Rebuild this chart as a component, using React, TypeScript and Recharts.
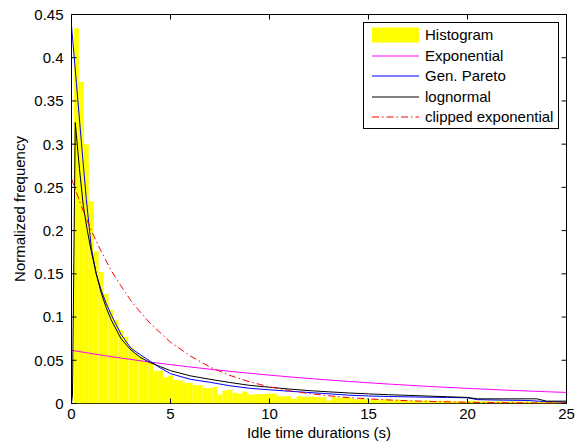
import { ComposedChart, Bar, Line, XAxis, YAxis, ReferenceArea } from "recharts"

// histogram of idle times, bins of 0.25 s (bin centres 0.25 .. 25)
const BIN_WIDTH = 0.25
const histogram = [
  0.434, 0.372, 0.300, 0.234, 0.176, 0.152, 0.127, 0.108, 0.097, 0.085,
  0.077, 0.065, 0.058, 0.055, 0.048, 0.048, 0.038, 0.038, 0.0305, 0.032,
  0.0275, 0.0267, 0.024, 0.024, 0.021, 0.021, 0.0178, 0.0178, 0.019, 0.0104,
  0.015, 0.016, 0.0124, 0.0112, 0.0139, 0.0104, 0.0104, 0.011, 0.011, 0.0116,
  0.0116, 0.0085, 0.0085, 0.0085, 0.0054, 0.0085, 0.0077, 0.0077, 0.0077, 0.0073,
  0.0073, 0.0035, 0.0077, 0.0066, 0.0066, 0.0066, 0.0052, 0.0047, 0.0058, 0.0044,
  0.0052, 0.0039, 0.0049, 0.0045, 0.0036, 0.0047, 0.0041, 0.0031, 0.0036, 0.0028,
  0.0033, 0.0038, 0.0026, 0.0031, 0.0029, 0.0035, 0.0024, 0.0030, 0.0027, 0.0022,
  0.0031, 0.0026, 0.0024, 0.0029, 0.0021, 0.0027, 0.0025, 0.0019, 0.0026, 0.0023,
  0.0021, 0.0025, 0.0018, 0.0024, 0.0022, 0.0019, 0.0023, 0.0017, 0.0021, 0.0018,
]

// fitted densities
const expX = [0, 2, 4, 6, 8, 10, 12, 14, 16, 18, 20, 22, 24, 25]
const expY = [0.0615, 0.0542, 0.0478, 0.0422, 0.0372, 0.0328, 0.0289, 0.0255, 0.0225, 0.0198, 0.0175, 0.0154, 0.0136, 0.0128]

const paretoX = [0, 0.25, 0.5, 0.75, 1, 1.25, 1.5, 1.75, 2, 2.5, 3, 3.5, 4, 4.5, 5, 6, 7, 8, 9, 10, 11, 12, 13, 14, 15, 16, 17, 18, 19, 20, 20.5, 21, 22, 23, 24, 25]
const paretoY = [0.437, 0.37, 0.302, 0.236, 0.18, 0.15, 0.131, 0.116, 0.103, 0.08, 0.064, 0.056, 0.0485, 0.041, 0.0345, 0.028, 0.0245, 0.0205, 0.0176, 0.0158, 0.0142, 0.0127, 0.0112, 0.0097, 0.0087, 0.0081, 0.0077, 0.0073, 0.007, 0.0066, 0.0045, 0.0042, 0.0038, 0.0035, 0.0022, 0.0015]

const lognX = [0, 0.05, 0.19, 0.4, 0.6, 0.8, 1, 1.25, 1.5, 1.75, 2, 2.5, 3, 3.5, 4, 4.5, 5, 6, 7, 8, 9, 10, 11, 12, 13, 14, 15, 16, 17, 18, 19, 20, 20.5, 23.5, 24, 25]
const lognY = [0, 0.01, 0.325, 0.272, 0.228, 0.2, 0.176, 0.15, 0.128, 0.111, 0.097, 0.075, 0.062, 0.053, 0.047, 0.0425, 0.038, 0.032, 0.028, 0.0243, 0.021, 0.0188, 0.0167, 0.0149, 0.0135, 0.0122, 0.0111, 0.0102, 0.0094, 0.0086, 0.0078, 0.007, 0.0054, 0.0054, 0.0027, 0.0027]

const clippedX = [0, 0.5, 1, 1.5, 2, 2.5, 3, 3.5, 4, 5, 6, 7, 8, 9, 10, 11, 12, 13, 14, 15, 16, 18, 20, 22, 25]
const clippedY = [0.26, 0.228, 0.2, 0.176, 0.154, 0.136, 0.119, 0.105, 0.092, 0.071, 0.055, 0.042, 0.0325, 0.025, 0.0193, 0.0149, 0.0115, 0.0089, 0.0068, 0.0053, 0.0041, 0.0024, 0.0014, 0.0009, 0.0004]

const xTicks = [0, 5, 10, 15, 20, 25]
const yTicks = [0, 0.05, 0.1, 0.15, 0.2, 0.25, 0.3, 0.35, 0.4, 0.45]

const histData = histogram.map((h, i) => ({ x: (i + 1) * BIN_WIDTH, h }))
const toPoints = (xs: number[], ys: number[]) => xs.map((x, i) => ({ x, y: ys[i] }))

const W = 581, H = 443
const M = { top: 14.5, right: 14.5, bottom: 0, left: 0 }
const Y_AXIS_W = 71.5, X_AXIS_H = 39.5
const PLOT_TOP = M.top
const PLOT_BOTTOM = H - M.bottom - X_AXIS_H
const PLOT_LEFT = M.left + Y_AXIS_W
const PLOT_RIGHT = W - M.right
const TICK = 5

const FONT = "'Liberation Sans', Arial, Helvetica, sans-serif"

// matlab style: ticks point inwards, on both sides of the box
const XTick = (p: any) => (
  <g>
    <line x1={p.x} x2={p.x} y1={PLOT_BOTTOM} y2={PLOT_BOTTOM - TICK} stroke="#000" />
    <line x1={p.x} x2={p.x} y1={PLOT_TOP} y2={PLOT_TOP + TICK} stroke="#000" />
    <text x={p.x} y={p.y} dy="0.71em" textAnchor="middle" fontSize={15} fontFamily={FONT} fill="#000">
      {p.payload.value}
    </text>
  </g>
)

const YTick = (p: any) => (
  <g>
    <line x1={PLOT_LEFT} x2={PLOT_LEFT + TICK} y1={p.y} y2={p.y} stroke="#000" />
    <line x1={PLOT_RIGHT} x2={PLOT_RIGHT - TICK} y1={p.y} y2={p.y} stroke="#000" />
    <text x={p.x} y={p.y} dy="0.36em" textAnchor="end" fontSize={15} fontFamily={FONT} fill="#000">
      {String(+Number(p.payload.value).toFixed(2))}
    </text>
  </g>
)

const legendItems = [
  { name: "Histogram", kind: "box", color: "#ffff00" },
  { name: "Exponential", kind: "line", color: "#ff00ff" },
  { name: "Gen. Pareto", kind: "line", color: "#0000ff" },
  { name: "lognormal", kind: "line", color: "#000000" },
  { name: "clipped exponential", kind: "dashdot", color: "#ff0000" },
]

function Legend() {
  return (
    <svg width={196} height={107} style={{ position: "absolute", left: 363, top: 22 }}>
      <rect x={0.5} y={0.5} width={195} height={106} fill="#fff" stroke="#000" />
      {legendItems.map((d, i) => {
        const cy = 13 + i * 20.5
        return (
          <g key={d.name}>
            {d.kind === "box"
              ? <rect x={9} y={cy - 7.5} width={47} height={15} fill={d.color} />
              : <line x1={9} x2={56} y1={Math.round(cy)} y2={Math.round(cy)} stroke={d.color} strokeWidth={1}
                  strokeDasharray={d.kind === "dashdot" ? "7 3 1.5 3" : undefined} />}
            <text x={62} y={cy + 5} fontSize={15} fontFamily={FONT} fill="#000">{d.name}</text>
          </g>
        )
      })}
    </svg>
  )
}

export default function App() {
  return (
    <div style={{ position: "absolute", left: 0, top: 0, width: W, height: H, background: "#fff", fontFamily: FONT }}>
      <ComposedChart width={W} height={H} data={histData} barCategoryGap={0} barGap={0} margin={M}>
        <XAxis xAxisId="hist" dataKey="x" type="number" domain={[0, 25]} ticks={xTicks}
          allowDataOverflow tickSize={0} tickMargin={4.5} height={X_AXIS_H}
          axisLine={false} tickLine={false} tick={<XTick />}
          label={{ value: "Idle time durations (s)", position: "insideBottom", offset: 5, fill: "#000", fontSize: 15 }} />
        <XAxis xAxisId="fit" orientation="top" dataKey="x" type="number" domain={[0, 25]}
          allowDataOverflow hide height={0} />
        <YAxis type="number" domain={[0, 0.45]} ticks={yTicks} allowDataOverflow
          tickSize={0} tickMargin={8} width={Y_AXIS_W} axisLine={false} tickLine={false} tick={<YTick />}
          label={{ value: "Normalized frequency", angle: -90, position: "insideLeft", offset: 20, fill: "#000", fontSize: 15, style: { textAnchor: "middle" } }} />

        <Bar xAxisId="hist" dataKey="h" fill="#ffff00" barSize={4.9} isAnimationActive={false} />
        <Line xAxisId="fit" data={toPoints(expX, expY)} dataKey="y" stroke="#ff00ff" strokeWidth={1} dot={false} isAnimationActive={false} />
        <Line xAxisId="fit" data={toPoints(paretoX, paretoY)} dataKey="y" stroke="#0000ff" strokeWidth={1} dot={false} isAnimationActive={false} />
        <Line xAxisId="fit" data={toPoints(lognX, lognY)} dataKey="y" stroke="#000000" strokeWidth={1} dot={false} isAnimationActive={false} />
        <Line xAxisId="fit" data={toPoints(clippedX, clippedY)} dataKey="y" stroke="#ff0000" strokeWidth={1} strokeDasharray="7 3 1.5 3" dot={false} isAnimationActive={false} />
        <ReferenceArea xAxisId="hist" x1={0} x2={25} y1={0} y2={0.45} fill="none" stroke="#000" strokeWidth={1} ifOverflow="visible" />
      </ComposedChart>
      <Legend />
    </div>
  )
}
